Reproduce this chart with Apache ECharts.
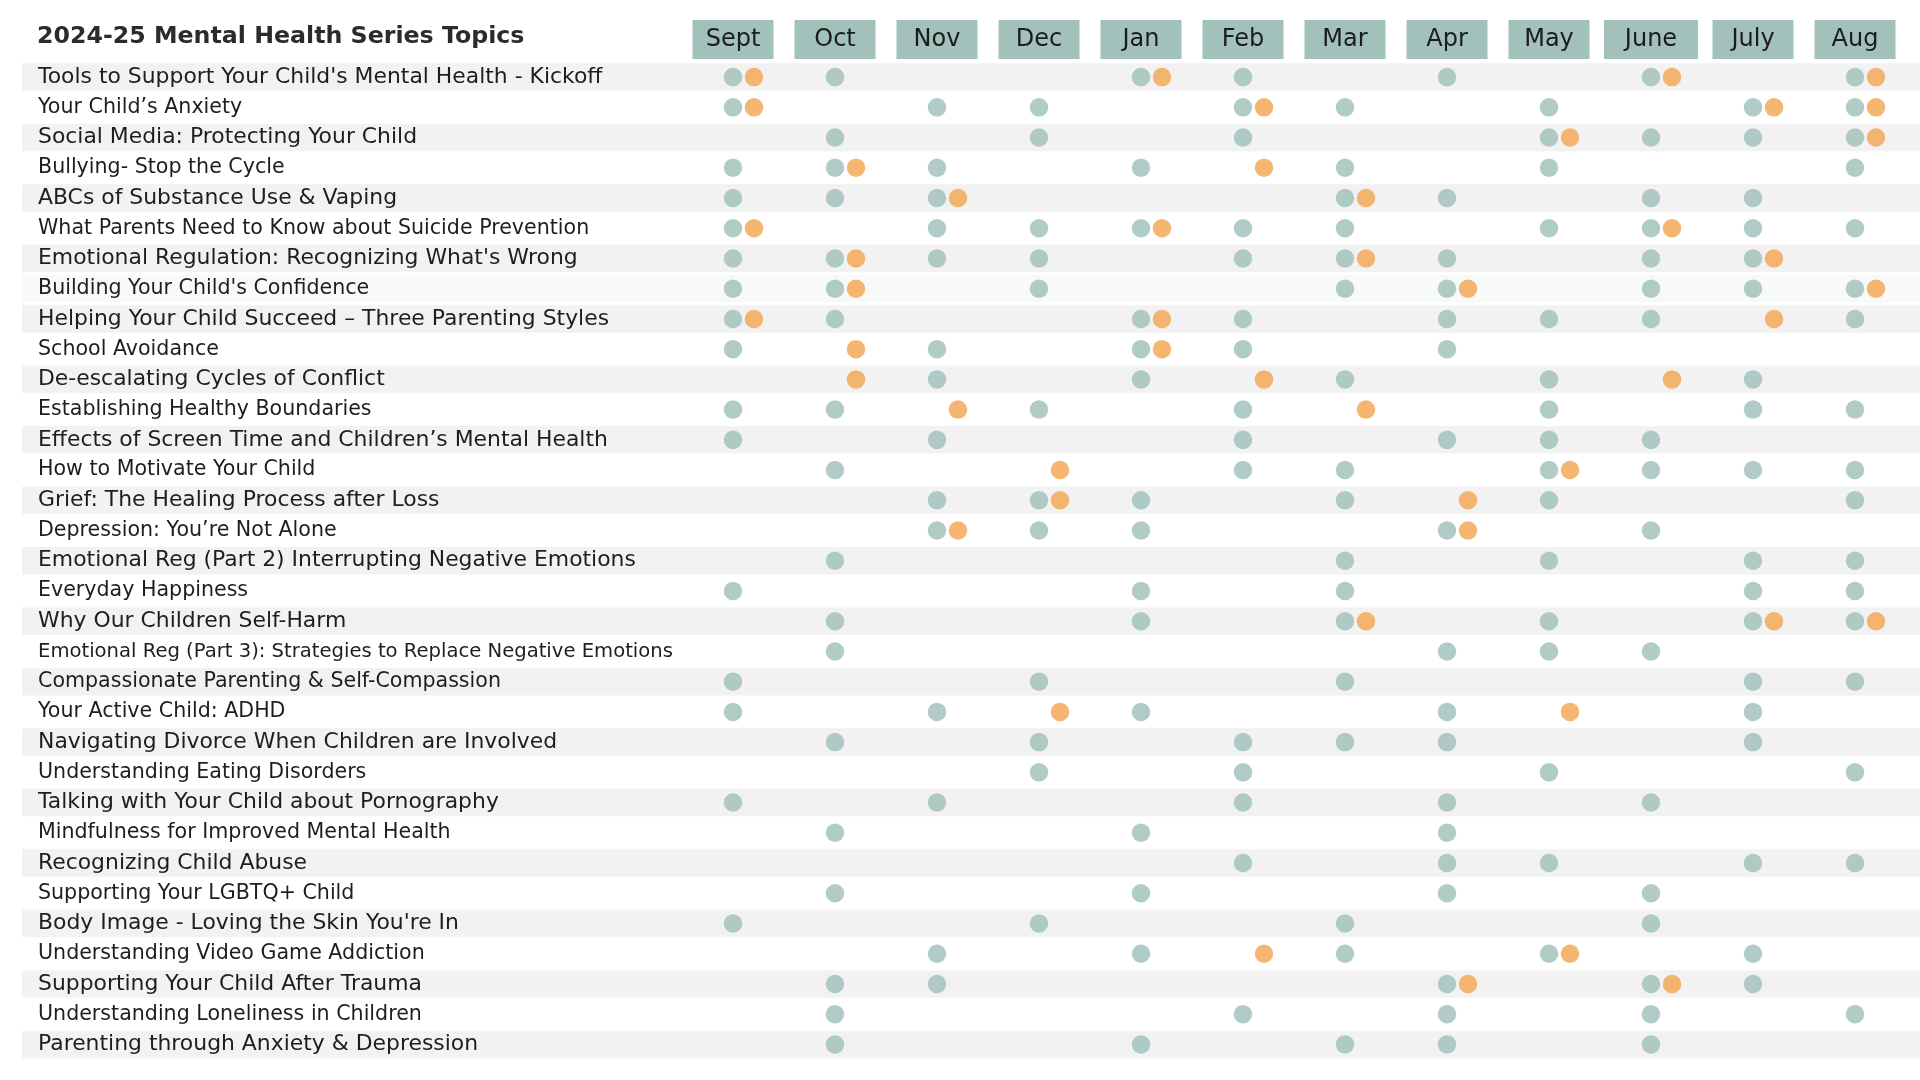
<!DOCTYPE html>
<html>
<head>
<meta charset="utf-8">
<script src="https://cdn.jsdelivr.net/npm/echarts@6/dist/echarts.min.js"></script>
<style>
  html, body { margin: 0; padding: 0; background: #ffffff; }
  #chart { width: 1920px; height: 1080px; }
</style>
</head>
<body>
<div id="chart"></div>
<script>
const months = ['Sept', 'Oct', 'Nov', 'Dec', 'Jan', 'Feb', 'Mar', 'Apr', 'May', 'June', 'July', 'Aug'];

const topics = [
  "Tools to Support Your Child's Mental Health - Kickoff",
  "Your Child’s Anxiety",
  "Social Media: Protecting Your Child",
  "Bullying- Stop the Cycle",
  "ABCs of Substance Use & Vaping",
  "What Parents Need to Know about Suicide Prevention",
  "Emotional Regulation: Recognizing What's Wrong",
  "Building Your Child's Confidence",
  "Helping Your Child Succeed – Three Parenting Styles",
  "School Avoidance",
  "De-escalating Cycles of Conflict",
  "Establishing Healthy Boundaries",
  "Effects of Screen Time and Children’s Mental Health",
  "How to Motivate Your Child",
  "Grief: The Healing Process after Loss",
  "Depression: You’re Not Alone",
  "Emotional Reg (Part 2) Interrupting Negative Emotions",
  "Everyday Happiness",
  "Why Our Children Self-Harm",
  "Emotional Reg (Part 3): Strategies to Replace Negative Emotions",
  "Compassionate Parenting & Self-Compassion",
  "Your Active Child: ADHD",
  "Navigating Divorce When Children are Involved",
  "Understanding Eating Disorders",
  "Talking with Your Child about Pornography",
  "Mindfulness for Improved Mental Health",
  "Recognizing Child Abuse",
  "Supporting Your LGBTQ+ Child",
  "Body Image - Loving the Skin You're In",
  "Understanding Video Game Addiction",
  "Supporting Your Child After Trauma",
  "Understanding Loneliness in Children",
  "Parenting through Anxiety & Depression"
];

// Teal dots: months in which each topic is offered (one list per topic, same order as topics)
const tealSessions = [
  ['Sept', 'Oct', 'Jan', 'Feb', 'Apr', 'June', 'Aug'],
  ['Sept', 'Nov', 'Dec', 'Feb', 'Mar', 'May', 'July', 'Aug'],
  ['Oct', 'Dec', 'Feb', 'May', 'June', 'July', 'Aug'],
  ['Sept', 'Oct', 'Nov', 'Jan', 'Mar', 'May', 'Aug'],
  ['Sept', 'Oct', 'Nov', 'Mar', 'Apr', 'June', 'July'],
  ['Sept', 'Nov', 'Dec', 'Jan', 'Feb', 'Mar', 'May', 'June', 'July', 'Aug'],
  ['Sept', 'Oct', 'Nov', 'Dec', 'Feb', 'Mar', 'Apr', 'June', 'July'],
  ['Sept', 'Oct', 'Dec', 'Mar', 'Apr', 'June', 'July', 'Aug'],
  ['Sept', 'Oct', 'Jan', 'Feb', 'Apr', 'May', 'June', 'Aug'],
  ['Sept', 'Nov', 'Jan', 'Feb', 'Apr'],
  ['Nov', 'Jan', 'Mar', 'May', 'July'],
  ['Sept', 'Oct', 'Dec', 'Feb', 'May', 'July', 'Aug'],
  ['Sept', 'Nov', 'Feb', 'Apr', 'May', 'June'],
  ['Oct', 'Feb', 'Mar', 'May', 'June', 'July', 'Aug'],
  ['Nov', 'Dec', 'Jan', 'Mar', 'May', 'Aug'],
  ['Nov', 'Dec', 'Jan', 'Apr', 'June'],
  ['Oct', 'Mar', 'May', 'July', 'Aug'],
  ['Sept', 'Jan', 'Mar', 'July', 'Aug'],
  ['Oct', 'Jan', 'Mar', 'May', 'July', 'Aug'],
  ['Oct', 'Apr', 'May', 'June'],
  ['Sept', 'Dec', 'Mar', 'July', 'Aug'],
  ['Sept', 'Nov', 'Jan', 'Apr', 'July'],
  ['Oct', 'Dec', 'Feb', 'Mar', 'Apr', 'July'],
  ['Dec', 'Feb', 'May', 'Aug'],
  ['Sept', 'Nov', 'Feb', 'Apr', 'June'],
  ['Oct', 'Jan', 'Apr'],
  ['Feb', 'Apr', 'May', 'July', 'Aug'],
  ['Oct', 'Jan', 'Apr', 'June'],
  ['Sept', 'Dec', 'Mar', 'June'],
  ['Nov', 'Jan', 'Mar', 'May', 'July'],
  ['Oct', 'Nov', 'Apr', 'June', 'July'],
  ['Oct', 'Feb', 'Apr', 'June', 'Aug'],
  ['Oct', 'Jan', 'Mar', 'Apr', 'June']
];

// Orange dots: months with an additional session (one list per topic)
const orangeSessions = [
  ['Sept', 'Jan', 'June', 'Aug'],
  ['Sept', 'Feb', 'July', 'Aug'],
  ['May', 'Aug'],
  ['Oct', 'Feb'],
  ['Nov', 'Mar'],
  ['Sept', 'Jan', 'June'],
  ['Oct', 'Mar', 'July'],
  ['Oct', 'Apr', 'Aug'],
  ['Sept', 'Jan', 'July'],
  ['Oct', 'Jan'],
  ['Oct', 'Feb', 'June'],
  ['Nov', 'Mar'],
  [],
  ['Dec', 'May'],
  ['Dec', 'Apr'],
  ['Nov', 'Apr'],
  [],
  [],
  ['Mar', 'July', 'Aug'],
  [],
  [],
  ['Dec', 'May'],
  [],
  [],
  [],
  [],
  [],
  [],
  [],
  ['Feb', 'May'],
  ['Apr', 'June'],
  [],
  []
];

const titleText = '2024-25 Mental Health Series Topics';

const TEAL = '#9ebfb8';
const ORANGE = '#f2a44f';
const HEADER = '#a1c1ba';
const BAND = '#f2f2f2';
const FONT = "'DejaVu Sans', 'Open Sans', sans-serif";

function toPoints(lists) {
  const pts = [];
  lists.forEach((list, ti) => list.forEach(m => pts.push([m, topics[ti]])));
  return pts;
}

const bandData = topics.map((t, i) => {
  if (i % 2 === 0) return { value: 1 };
  if (i === 7) return { value: 1, itemStyle: { color: '#f8f9f9' } };
  return '-';
});

function labelStyleKey(i) {
  if (i === 19) return 'c';
  if (i === 20) return 'd';
  return i % 2 === 0 ? 'a' : 'b';
}

const GRID_TOP = 62;
const GRID_H = 997.5;

const chart = echarts.init(document.getElementById('chart'), null, { renderer: 'canvas' });
chart.setOption({
  animation: false,
  backgroundColor: '#ffffff',
  title: {
    text: titleText,
    left: 32,
    top: 20,
    textStyle: { fontFamily: FONT, fontWeight: 'bold', fontSize: 23.7, color: '#2b2b2b' }
  },
  grid: [
    { left: 22, right: 0, top: GRID_TOP, height: GRID_H },
    { left: 682, width: 1224, top: GRID_TOP, height: GRID_H }
  ],
  xAxis: [
    { type: 'value', gridIndex: 0, min: 0, max: 1, show: false },
    {
      type: 'category', gridIndex: 1, data: months, position: 'top',
      axisLine: { show: false }, axisTick: { show: false }, splitLine: { show: false },
      axisLabel: {
        interval: 0, margin: 3,
        formatter: v => (v === 'June' ? '{w|' + v + '}' : '{n|' + v + '}'),
        rich: {
          n: { width: 81, height: 39, lineHeight: 39, backgroundColor: HEADER, align: 'center',
               fontFamily: FONT, fontSize: 24, color: '#1c1c1c' },
          w: { width: 94, height: 39, lineHeight: 39, backgroundColor: HEADER, align: 'center',
               fontFamily: FONT, fontSize: 24, color: '#1c1c1c' }
        }
      }
    }
  ],
  yAxis: [
    {
      type: 'category', gridIndex: 0, data: topics, inverse: true,
      axisLine: { show: false }, axisTick: { show: false }, splitLine: { show: false },
      axisLabel: {
        inside: true, margin: 16, interval: 0,
        formatter: (v, i) => '{' + labelStyleKey(i) + '|' + v + '}',
        rich: {
          a: { fontFamily: FONT, fontSize: 21.9, color: '#1e1e1e' },
          b: { fontFamily: FONT, fontSize: 20.6, color: '#1e1e1e' },
          c: { fontFamily: FONT, fontSize: 19.6, color: '#1e1e1e' },
          d: { fontFamily: FONT, fontSize: 20.6, color: '#1e1e1e' }
        }
      }
    },
    {
      type: 'category', gridIndex: 1, data: topics, inverse: true, show: false
    }
  ],
  series: [
    {
      type: 'bar', xAxisIndex: 0, yAxisIndex: 0, data: bandData,
      barWidth: 27.5, silent: true, z: 0,
      itemStyle: { color: BAND }
    },
    {
      name: 'Sessions', type: 'scatter', xAxisIndex: 1, yAxisIndex: 1,
      data: toPoints(tealSessions), symbol: 'circle', symbolSize: 18.5,
      itemStyle: { color: TEAL }, z: 3
    },
    {
      name: 'Additional sessions', type: 'scatter', xAxisIndex: 1, yAxisIndex: 1,
      data: toPoints(orangeSessions), symbol: 'circle', symbolSize: 18.5,
      symbolOffset: [21, 0],
      itemStyle: { color: ORANGE }, z: 4
    }
  ]
});
</script>
</body>
</html>
